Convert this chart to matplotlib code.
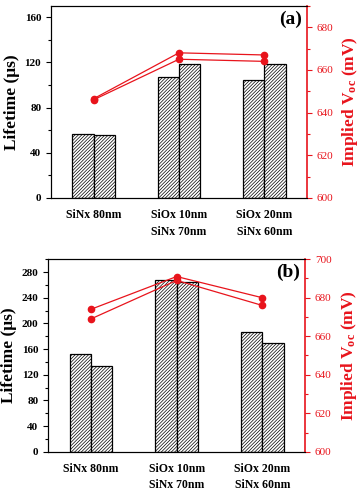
import matplotlib
matplotlib.use("Agg")
import matplotlib.pyplot as plt
import numpy as np
from matplotlib.ticker import MultipleLocator

plt.rcParams["font.family"] = "Liberation Serif"
plt.rcParams["font.weight"] = "bold"
plt.rcParams["mathtext.fontset"] = "custom"
plt.rcParams["mathtext.rm"] = "Liberation Serif:bold"
plt.rcParams["mathtext.default"] = "rm"
plt.rcParams["hatch.linewidth"] = 0.5

# data
categories = ["SiNx 80nm", "SiOx 10nm\nSiNx 70nm", "SiOx 20nm\nSiNx 60nm"]

life_a1 = [57, 107, 104]
life_a2 = [56, 119, 119]
voc_a1 = [646.5, 668, 667]
voc_a2 = [646, 665, 664]

life_b1 = [153, 267, 187]
life_b2 = [133, 264, 169]
voc_b1 = [674, 691, 680]
voc_b2 = [669, 689, 676]

red = "#e8141c"

fig = plt.figure(figsize=(3.59, 4.9), dpi=100)
ax_a = fig.add_axes([0.142, 0.596, 0.713, 0.392])
ax_b = fig.add_axes([0.134, 0.078, 0.716, 0.393])


def panel(ax, l1, l2, v1, v2, ylim, ymaj, vlim, tag):
    x = np.arange(len(categories))
    w = 0.25
    ax.bar(x - w / 2, l1, w, color="white", edgecolor="black", hatch="//////////", lw=0.9, zorder=2)
    ax.bar(x + w / 2, l2, w, color="white", edgecolor="black", hatch="//////////", lw=0.9, zorder=2)
    ax.set_xlim(-0.5, 2.5)
    ax.set_ylim(*ylim)
    ax.yaxis.set_major_locator(MultipleLocator(ymaj))
    ax.yaxis.set_minor_locator(MultipleLocator(ymaj / 2))
    ax.set_xticks(x)
    ax.set_xticklabels(categories, fontsize=8.5, fontweight="bold", linespacing=1.5)
    ax.tick_params(axis="x", length=0, pad=8)
    ax.tick_params(axis="y", which="major", direction="out", length=3.5, width=0.8, labelsize=8)
    ax.tick_params(axis="y", which="minor", direction="out", length=2, width=0.8)
    for lab in ax.get_yticklabels():
        lab.set_fontweight("bold")
    ax.set_ylabel("Lifetime (μs)", fontsize=12.5, fontweight="bold", labelpad=3)
    ax.spines["right"].set_visible(False)
    ax.text(0.98, 0.93, tag, transform=ax.transAxes, ha="right", va="center",
            fontsize=14, fontweight="bold")

    ax2 = ax.twinx()
    ax2.plot(x, v1, color=red, lw=0.9, marker="o", ms=4.5, zorder=3)
    ax2.plot(x, v2, color=red, lw=0.9, marker="o", ms=4.5, zorder=3)
    ax2.set_ylim(*vlim)
    ax2.yaxis.set_major_locator(MultipleLocator(20))
    ax2.yaxis.set_minor_locator(MultipleLocator(10))
    ax2.tick_params(axis="y", which="major", direction="out", length=3.5, width=0.8,
                    colors=red, labelsize=8)
    ax2.tick_params(axis="y", which="minor", direction="out", length=2, width=0.8, colors=red)
    for lab in ax2.get_yticklabels():
        lab.set_fontweight("normal")
    ax2.spines["right"].set_color(red)
    ax2.spines["right"].set_linewidth(1.2)
    ax2.set_ylabel("Implied V$_{oc}$ (mV)", color=red, fontsize=12.5, fontweight="bold", labelpad=5)
    return ax2


panel(ax_a, life_a1, life_a2, voc_a1, voc_a2, (0, 170), 40, (600, 690), "(a)")
panel(ax_b, life_b1, life_b2, voc_b1, voc_b2, (0, 300), 40, (600, 700), "(b)")

fig.savefig("out.png", dpi=100)
